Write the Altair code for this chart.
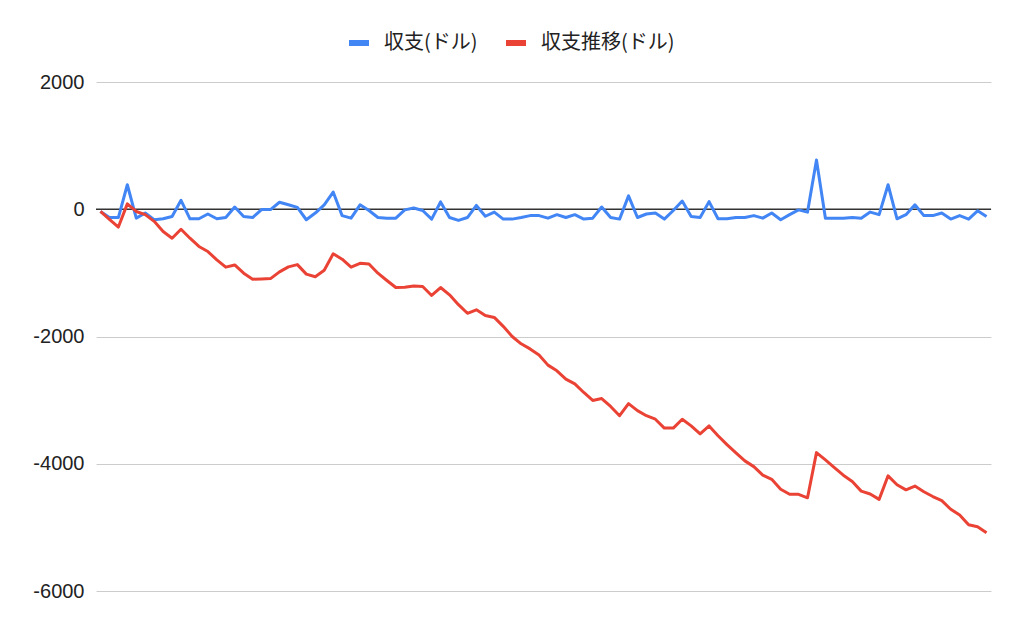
import altair as alt
import pandas as pd

series_names = ["収支(ドル)", "収支推移(ドル)"]
series_colors = ["#4285F4", "#EA4335"]

balance = [-35, -130, -130, 385, -140, -60, -165, -150, -115, 140, -150,
           -150, -75, -150, -130, 35, -115, -130, -5, -5, 110,
           70, 30, -165, -60, 70, 270, -100, -140, 70, -20,
           -130, -140, -140, -10, 20, -20, -155, 115, -130, -175,
           -130, 60, -110, -45, -155, -155, -130, -100, -100, -140,
           -85, -130, -85, -155, -140, 35, -130, -155, 210, -130,
           -75, -60, -155, -20, 130, -115, -130, 120, -150, -150,
           -130, -130, -100, -140, -60, -165, -85, -10, -45, 775,
           -140, -140, -140, -130, -140, -45, -85, 385, -150, -85,
           70, -100, -100, -60, -155, -100, -155, -25, -115]

running = [-35, -160, -280, 85, -35, -85, -190, -350, -455, -315, -455,
           -585, -665, -795, -910, -875, -1005, -1100, -1095, -1090, -985,
           -905, -870, -1020, -1060, -960, -700, -785, -910, -850, -860,
           -1005, -1120, -1230, -1225, -1205, -1215, -1355, -1230, -1345, -1500,
           -1635, -1580, -1670, -1700, -1840, -2000, -2115, -2195, -2290, -2450,
           -2540, -2670, -2745, -2880, -3005, -2975, -3100, -3245, -3055, -3165,
           -3245, -3300, -3440, -3440, -3300, -3405, -3530, -3405, -3560, -3700,
           -3830, -3955, -4045, -4180, -4245, -4400, -4480, -4480, -4535, -3825,
           -3940, -4060, -4180, -4280, -4430, -4475, -4560, -4190, -4330, -4410,
           -4350, -4440, -4515, -4580, -4715, -4805, -4960, -4990, -5085]

y_ticks = [-6000, -4000, -2000, 0, 2000]

n = len(balance)
rows = []
for i, v in enumerate(balance):
    rows.append({"idx": i, "value": v, "series": series_names[0]})
for i, v in enumerate(running):
    rows.append({"idx": i, "value": v, "series": series_names[1]})
df = pd.DataFrame(rows)

x_enc = alt.X("idx:Q", scale=alt.Scale(domain=[-0.5, n - 0.5], nice=False, zero=False), axis=None)

zero = alt.Chart(pd.DataFrame({"y": [0]})).mark_rule(color="#333333", strokeWidth=1.3).encode(
    y=alt.Y("y:Q")
)

lines = alt.Chart(df).mark_line(strokeWidth=3, strokeJoin="round").encode(
    x=x_enc,
    y=alt.Y("value:Q",
            scale=alt.Scale(domain=[-6000, 2000], nice=False),
            axis=alt.Axis(values=y_ticks, labelExpr="'' + datum.value", title=None,
                          domain=False, ticks=False,
                          labelPadding=12, labelFontSize=20, labelFont="Liberation Sans",
                          labelColor="#222222", gridColor="#cccccc", gridWidth=1)),
    color=alt.Color("series:N",
                    scale=alt.Scale(domain=series_names, range=series_colors),
                    legend=alt.Legend(title=None, orient="none", direction="horizontal",
                                      legendX=250, legendY=-52,
                                      symbolType="stroke", symbolSize=400, symbolStrokeWidth=6,
                                      labelFont="Noto Sans CJK JP", labelFontSize=20,
                                      labelColor="#222222", labelOffset=12, columnPadding=16,
                                      padding=0)),
    detail="series:N",
    order="idx:Q",
)

chart = alt.layer(zero, lines).properties(
    width=895, height=509,
    background="white",
    autosize=alt.AutoSizeParams(type="none"),
    padding={"left": 88, "top": 74, "right": 20, "bottom": 30},
).configure_view(strokeWidth=0, stroke="transparent")

chart.save("out.html", embed_options={"renderer": "svg", "actions": False})
